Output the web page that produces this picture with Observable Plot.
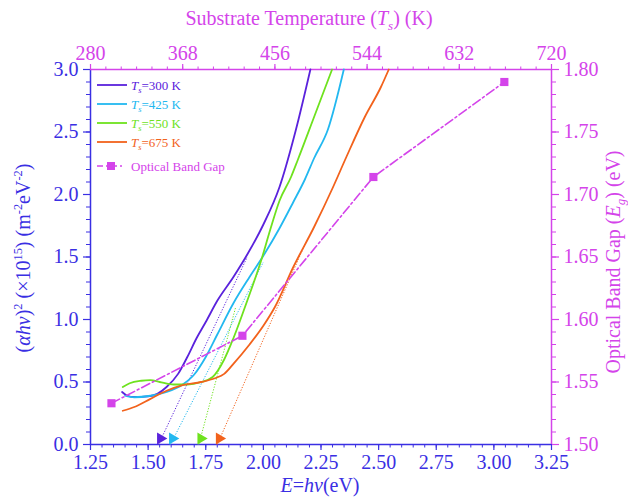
<!DOCTYPE html>
<html><head><meta charset="utf-8">
<script src="https://cdn.jsdelivr.net/npm/d3@7"></script>
<script src="https://cdn.jsdelivr.net/npm/@observablehq/plot@0.6"></script>
<style>body{margin:0;background:#fff}</style>
</head><body><div id="chart"></div>
<script>
// ---- data ----
const temperatures = [300, 425, 550, 675];           // K
const bandGap = [1.533, 1.587, 1.714, 1.790];        // eV
const curve300 = [[1.387,0.42],[1.41,0.39],[1.44,0.38],[1.50,0.385],[1.54,0.405],[1.58,0.46],[1.63,0.565],[1.67,0.70],[1.71,0.85],[1.75,0.98],[1.80,1.15],[1.87,1.34],[1.93,1.52],[2.00,1.76],[2.07,2.06],[2.14,2.51],[2.204,3.0]];
const curve425 = [[1.40,0.39],[1.44,0.378],[1.51,0.39],[1.58,0.42],[1.65,0.48],[1.70,0.56],[1.75,0.70],[1.80,0.88],[1.87,1.13],[1.94,1.34],[2.00,1.51],[2.07,1.73],[2.13,1.94],[2.18,2.12],[2.22,2.29],[2.28,2.52],[2.349,3.0]];
const curve550 = [[1.39,0.46],[1.42,0.49],[1.47,0.51],[1.51,0.515],[1.55,0.50],[1.61,0.48],[1.67,0.48],[1.73,0.50],[1.78,0.54],[1.83,0.68],[1.87,0.85],[1.93,1.15],[1.99,1.47],[2.03,1.72],[2.07,1.95],[2.12,2.14],[2.15,2.28],[2.22,2.62],[2.298,3.0]];
const curve675 = [[1.39,0.27],[1.44,0.30],[1.51,0.365],[1.58,0.43],[1.65,0.475],[1.73,0.50],[1.79,0.53],[1.83,0.565],[1.87,0.645],[1.94,0.80],[2.00,0.95],[2.05,1.10],[2.13,1.42],[2.22,1.74],[2.30,2.05],[2.36,2.30],[2.44,2.62],[2.51,2.86],[2.544,3.0]];
const interceptE = [1.545, 1.597, 1.72, 1.80];       // linear-fit x-intercepts
const fitEndE = [1.93, 2.00, 1.88, 2.18];
const fitEndY = [1.50, 1.46, 1.10, 1.60];
const xTicks = [1.25,1.50,1.75,2.00,2.25,2.50,2.75,3.00,3.25];
const yTicks = [0,0.5,1.0,1.5,2.0,2.5,3.0];
const tempTicks = [280,368,456,544,632,720];
const gapTicks = [1.50,1.55,1.60,1.65,1.70,1.75,1.80];

// ---- styles ----
const BLUE = "#3a2fe3", MAG = "#d444ea";
const curveColors = ["#5a22dc", "#22b8f0", "#6ee21e", "#f2621c"];
const FONT = "Liberation Serif, Times New Roman, serif";

// secondary-axis transforms (top: temperature, right: band gap)
const tToE = t => 1.25 + (t - 280) / 220;
const gToY = g => (g - 1.5) * 10;

const series = [curve300, curve425, curve550, curve675];
const curveRows = series.flatMap((c, k) => c.map(([e, v]) => ({k, e, v})));
const fitRows = temperatures.map((t, k) => ({k, x1: interceptE[k], y1: 0, x2: fitEndE[k], y2: fitEndY[k]}));
const gapRows = temperatures.map((t, k) => ({e: tToE(t), v: gToY(bandGap[k])}));

const range = (a, b, s) => d3.range(0, Math.round((b - a) / s) + 1).map(i => +(a + i * s).toFixed(6));
const xMinor = range(1.25, 3.25, 0.05);
const yMinor = range(0, 3, 0.1);
const topMinor = range(280, 720, 88 / 6).map(tToE);
const rightMinor = range(0, 3, 0.1);

const tickFont = 20;
const svg = Plot.plot({
  width: 628, height: 498,
  marginLeft: 90, marginRight: 77, marginTop: 69, marginBottom: 54,
  x: {domain: [1.25, 3.25]},
  y: {domain: [0, 3]},
  style: {fontFamily: FONT, background: "white", overflow: "visible"},
  marks: [
    // frame
    Plot.ruleX([1.25], {stroke: BLUE, strokeWidth: 1.5}),
    Plot.ruleY([0], {stroke: BLUE, strokeWidth: 1.5}),
    Plot.ruleY([3], {stroke: MAG, strokeWidth: 1.5}),
    Plot.ruleX([3.25], {stroke: MAG, strokeWidth: 1.5}),
    // bottom axis
    Plot.axisX({anchor: "bottom", ticks: xTicks, tickSize: 6, tickPadding: 4, tickFormat: d => d.toFixed(2), color: BLUE, fontSize: tickFont, label: null, strokeWidth: 1.2}),
    Plot.axisX({anchor: "bottom", ticks: xMinor, tickSize: 3.5, tickFormat: () => "", color: BLUE, label: null}),
    // left axis
    Plot.axisY({anchor: "left", ticks: yTicks, tickSize: 7, tickPadding: 5, tickFormat: d => d.toFixed(1), color: BLUE, fontSize: tickFont, label: null, strokeWidth: 1.2}),
    Plot.axisY({anchor: "left", ticks: yMinor, tickSize: 4, tickFormat: () => "", color: BLUE, label: null}),
    // top axis (temperature)
    Plot.axisX({anchor: "top", ticks: tempTicks.map(tToE), tickSize: 6, tickPadding: 4, tickFormat: (d, i) => String(tempTicks[i]), color: MAG, fontSize: tickFont, label: null, strokeWidth: 1.2}),
    Plot.axisX({anchor: "top", ticks: topMinor, tickSize: 3.5, tickFormat: () => "", color: MAG, label: null}),
    // right axis (band gap)
    Plot.axisY({anchor: "right", ticks: gapTicks.map(gToY), tickSize: 7, tickPadding: 5, tickFormat: (d, i) => gapTicks[i].toFixed(2), color: MAG, fontSize: tickFont, label: null, strokeWidth: 1.2}),
    Plot.axisY({anchor: "right", ticks: rightMinor, tickSize: 4, tickFormat: () => "", color: MAG, label: null}),
    // extrapolation (dotted)
    Plot.link(fitRows, {x1: "x1", y1: "y1", x2: "x2", y2: "y2", stroke: d => curveColors[d.k], strokeWidth: 1, strokeDasharray: "1.2,1.6"}),
    Plot.dot(fitRows, {x: "x1", y: "y1", dy: -6, dx: 2, symbol: "triangle", rotate: 90, r: 4.4, fill: d => curveColors[d.k], stroke: "none"}),
    // Tauc curves
    Plot.line(curveRows, {x: "e", y: "v", z: "k", stroke: d => curveColors[d.k], strokeWidth: 1.8, curve: "monotone-x"}),
    // band gap vs temperature
    Plot.line(gapRows, {x: "e", y: "v", stroke: MAG, strokeWidth: 1.6, strokeDasharray: "9,3,2,3"}),
    Plot.dot(gapRows, {x: "e", y: "v", symbol: "square", r: 4.6, fill: MAG, stroke: "none"})
  ]
});
document.getElementById("chart").appendChild(svg);

// ---- rich-text titles & legend ----
const root = d3.select(svg);
function rich(sel, parts, size) {
  let shift = 0;
  for (const [t, s = ""] of parts) {
    const ts = sel.append("tspan").text(t);
    let target = 0, fs = size;
    if (s.includes("sup")) { target = -size * 0.42; fs = size * 0.62; }
    if (s.includes("sub")) { target = size * 0.25; fs = size * 0.65; }
    if (s.includes("i")) ts.attr("font-style", "italic");
    ts.attr("font-size", fs);
    if (target - shift) ts.attr("dy", target - shift);
    shift = target;
  }
}
function title(x, y, rot, color, parts, size) {
  const t = root.append("text").attr("transform", `translate(${x},${y}) rotate(${rot})`)
    .attr("text-anchor", "middle").attr("fill", color).attr("font-family", FONT).attr("font-size", size);
  rich(t, parts, size);
}
title(30, 258, -90, BLUE, [["("],["α","i"],["h","i"],["ν","i"],[")"],["2","sup"],[" (×10"],["15","sup"],[") (m"],["-2","sup"],["eV"],["-2","sup"],[")"]], 20);
title(620, 262, -90, MAG, [["Optical Band Gap ("],["E","i"],["g","isub"],[") (eV)"]], 20);
title(309, 25, 0, MAG, [["Substrate Temperature ("],["T","i"],["s","isub"],[") (K)"]], 20);
title(320, 492, 0, BLUE, [["E","i"],["=",""],["h","i"],["ν","i"],["(eV)"]], 20);

const leg = root.append("g").attr("font-family", FONT).attr("text-anchor", "start");
const legY = [85, 104, 123, 142];
temperatures.forEach((t, k) => {
  leg.append("line").attr("x1", 97).attr("x2", 127).attr("y1", legY[k]).attr("y2", legY[k])
    .attr("stroke", curveColors[k]).attr("stroke-width", 1.8);
  const tx = leg.append("text").attr("x", 131).attr("y", legY[k] + 4.5).attr("fill", curveColors[k])
    .attr("font-size", 13).attr("text-anchor", "start");
  rich(tx, [["T","i"],["s","isub"],[`=${t} K`]], 13);
});
const gy = 166;
leg.append("line").attr("x1", 97).attr("x2", 125).attr("y1", gy).attr("y2", gy)
  .attr("stroke", MAG).attr("stroke-width", 1.6).attr("stroke-dasharray", "6,3,2,3");
leg.append("rect").attr("x", 107).attr("y", gy - 4).attr("width", 8).attr("height", 8).attr("fill", MAG);
leg.append("text").attr("x", 131).attr("y", gy + 4.5).attr("fill", MAG).attr("font-size", 13)
  .attr("text-anchor", "start").text("Optical Band Gap");
</script>
</body></html>
